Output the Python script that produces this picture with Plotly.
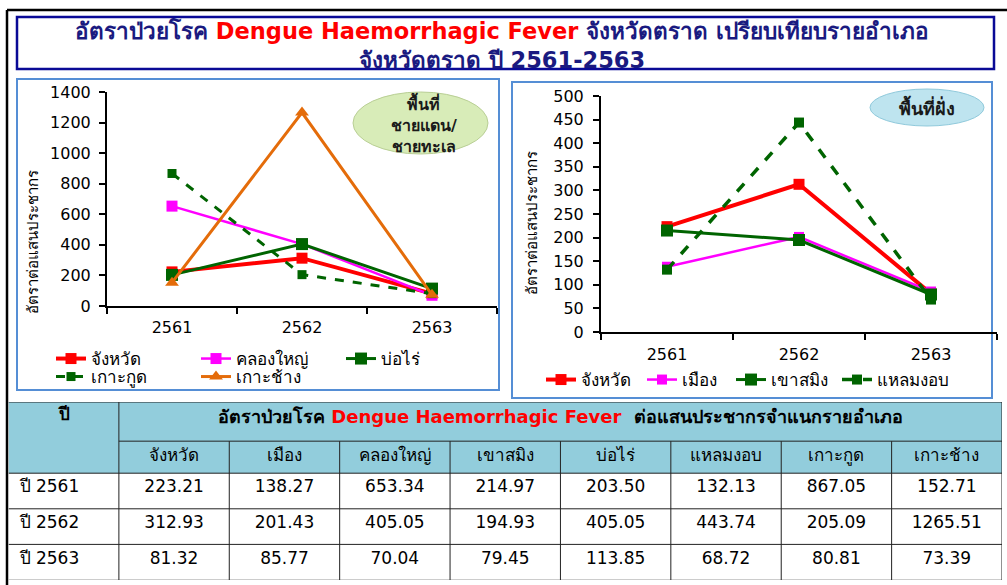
import plotly.graph_objects as go

W, H = 1007, 585

# ---------------- data ----------------
years = ["2561", "2562", "2563"]
row_labels = ["ปี 2561", "ปี 2562", "ปี 2563"]
districts = ["จังหวัด", "เมือง", "คลองใหญ่", "เขาสมิง", "บ่อไร่", "แหลมงอบ", "เกาะกูด", "เกาะช้าง"]

rate_changwat = [223.21, 312.93, 81.32]
rate_mueang = [138.27, 201.43, 85.77]
rate_khlongyai = [653.34, 405.05, 70.04]
rate_khaosaming = [214.97, 194.93, 79.45]
rate_borai = [203.50, 405.05, 113.85]
rate_laemngop = [132.13, 443.74, 68.72]
rate_kokut = [867.05, 205.09, 80.81]
rate_kochang = [152.71, 1265.51, 73.39]

left_yticks = [0, 200, 400, 600, 800, 1000, 1200, 1400]
right_yticks = [0, 50, 100, 150, 200, 250, 300, 350, 400, 450, 500]

table_columns = [rate_changwat, rate_mueang, rate_khlongyai, rate_khaosaming,
                 rate_borai, rate_laemngop, rate_kokut, rate_kochang]

border_label_lines = ["พื้นที่", "ชายแดน/", "ชายทะเล"]
inland_label = "พื้นที่ฝั่ง"

# ---------------- helpers (layout only) ----------------
def px(x):
    return x / W

def py(y):
    return 1 - y / H

FONT = "DejaVu Sans, Tahoma, sans-serif"
RED = "#FF0000"
MAG = "#FF00FF"
GRN = "#006400"
ORG = "#E46C0A"
NAVY = "#1A1A80"

fig = go.Figure()

# ---------------- left chart ----------------
left_series = [
    ("จังหวัด", rate_changwat, RED, 4, "solid", "square", 11, "legend"),
    ("คลองใหญ่", rate_khlongyai, MAG, 2.5, "solid", "square", 11, "legend"),
    ("บ่อไร่", rate_borai, GRN, 3, "solid", "square", 12, "legend"),
    ("เกาะกูด", rate_kokut, GRN, 3, "dash", "square", 9, "legend2"),
    ("เกาะช้าง", rate_kochang, ORG, 3, "solid", "triangle-up", 12, "legend2"),
]
for name, vals, col, lw, dash, sym, ms, lg in left_series:
    fig.add_trace(go.Scatter(
        x=years, y=vals, name=name, mode="lines+markers",
        line=dict(color=col, width=lw, dash=dash),
        marker=dict(color=col, symbol=sym, size=ms),
        xaxis="x", yaxis="y", legend=lg, hoverinfo="x+y+name"))

# ---------------- right chart ----------------
right_series = [
    ("จังหวัด", rate_changwat, RED, 4, "solid", "square", 11, "legend3"),
    ("เมือง", rate_mueang, MAG, 2.5, "solid", "square", 10, "legend4"),
    ("เขาสมิง", rate_khaosaming, GRN, 3, "solid", "square", 12, "legend5"),
    ("แหลมงอบ", rate_laemngop, GRN, 3.5, "dash", "square", 10, "legend6"),
]
for name, vals, col, lw, dash, sym, ms, lg in right_series:
    fig.add_trace(go.Scatter(
        x=years, y=vals, name=name, mode="lines+markers",
        line=dict(color=col, width=lw, dash=dash),
        marker=dict(color=col, symbol=sym, size=ms),
        xaxis="x2", yaxis="y2", legend=lg, hoverinfo="x+y+name"))

# ---------------- table (on its own axes) ----------------
NCOL = 9
row_edges = [0, 1.1, 2, 3, 4, 5]
hdr_y = (row_edges[1] + row_edges[2]) / 2
data_centers = [(row_edges[i] + row_edges[i + 1]) / 2 - 0.08 for i in range(2, 5)]

fig.add_trace(go.Scatter(
    x=[c + 1.5 for c in range(len(districts))], y=[hdr_y] * len(districts),
    text=districts, mode="text", textposition="middle center",
    textfont=dict(family=FONT, size=17, color="black"),
    xaxis="x3", yaxis="y3", showlegend=False, hoverinfo="skip"))
fig.add_trace(go.Scatter(
    x=[0.1] * len(row_labels), y=data_centers, text=row_labels,
    mode="text", textposition="middle right",
    textfont=dict(family=FONT, size=17, color="black"),
    xaxis="x3", yaxis="y3", showlegend=False, hoverinfo="skip"))
tx, ty, tt = [], [], []
for ci, colvals in enumerate(table_columns):
    for ri, v in enumerate(colvals):
        tx.append(ci + 1.5)
        ty.append(data_centers[ri])
        tt.append(f"{v:.2f}")
fig.add_trace(go.Scatter(
    x=tx, y=ty, text=tt, mode="text", textposition="middle center",
    textfont=dict(family=FONT, size=17, color="black"),
    xaxis="x3", yaxis="y3", showlegend=False, hoverinfo="skip"))

shapes = []
shapes.append(dict(type="rect", xref="x3", yref="y3", x0=0, x1=NCOL, y0=0, y1=row_edges[2],
                   fillcolor="#92CDDC", line=dict(width=0), layer="below"))
tline = dict(color="#222222", width=1)
shapes.append(dict(type="line", xref="x3", yref="y3", x0=1, x1=NCOL, y0=row_edges[1], y1=row_edges[1], line=tline))
for r in row_edges[2:5]:
    shapes.append(dict(type="line", xref="x3", yref="y3", x0=0, x1=NCOL, y0=r, y1=r, line=tline))
shapes.append(dict(type="line", xref="x3", yref="y3", x0=0, x1=NCOL, y0=0, y1=0, line=tline))
shapes.append(dict(type="line", xref="x3", yref="y3", x0=0, x1=NCOL, y0=5, y1=5, line=dict(color="#999999", width=1)))
shapes.append(dict(type="line", xref="x3", yref="y3", x0=1, x1=1, y0=0, y1=5, line=tline))
for c in range(2, NCOL):
    shapes.append(dict(type="line", xref="x3", yref="y3", x0=c, x1=c, y0=row_edges[1], y1=5, line=tline))
shapes.append(dict(type="line", xref="x3", yref="y3", x0=NCOL, x1=NCOL, y0=0, y1=5, line=tline))

# outer black frame
shapes.append(dict(type="line", xref="paper", yref="paper", x0=px(7), x1=px(7), y0=py(10), y1=0,
                   line=dict(color="black", width=2.5)))
shapes.append(dict(type="line", xref="paper", yref="paper", x0=px(7), x1=1, y0=py(10), y1=py(10),
                   line=dict(color="black", width=2.5)))
# title box
shapes.append(dict(type="rect", xref="paper", yref="paper", x0=px(17), x1=px(994), y0=py(69), y1=py(17),
                   line=dict(color="#0A0A96", width=2.5), fillcolor="white", layer="below"))
# chart panels
shapes.append(dict(type="rect", xref="paper", yref="paper", x0=px(17), x1=px(499), y0=py(390), y1=py(79),
                   line=dict(color="#558ED5", width=2), layer="below"))
shapes.append(dict(type="rect", xref="paper", yref="paper", x0=px(512), x1=px(992), y0=py(398), y1=py(82),
                   line=dict(color="#558ED5", width=2), layer="below"))
# ellipses
shapes.append(dict(type="circle", xref="paper", yref="paper", x0=px(353), x1=px(488), y0=py(154), y1=py(92),
                   fillcolor="#D8ECB8", line=dict(color="#B9CF95", width=1), layer="below"))
shapes.append(dict(type="circle", xref="paper", yref="paper", x0=px(870), x1=px(984), y0=py(126), y1=py(89),
                   fillcolor="#BEE4EF", line=dict(color="#8FC9DB", width=1), layer="below"))

annotations = []
annotations.append(dict(xref="paper", yref="paper", x=px(502), y=py(45), xanchor="center", yanchor="middle",
                        showarrow=False, align="center",
                        text="อัตราป่วยโรค <span style='color:#FF0000'>Dengue Haemorrhagic Fever</span> จังหวัดตราด เปรียบเทียบรายอำเภอ"
                             "<br>จังหวัดตราด ปี 2561-2563",
                        font=dict(family=FONT, size=22.5, color=NAVY, weight="bold")))
annotations.append(dict(xref="paper", yref="paper", x=px(33), y=py(242), textangle=-90, showarrow=False,
                        xanchor="center", yanchor="middle", text="อัตราต่อแสนประชากร",
                        font=dict(family=FONT, size=15, color="black")))
annotations.append(dict(xref="paper", yref="paper", x=px(532), y=py(223), textangle=-90, showarrow=False,
                        xanchor="center", yanchor="middle", text="อัตราต่อแสนประชากร",
                        font=dict(family=FONT, size=15, color="black")))
annotations.append(dict(xref="paper", yref="paper", x=px(424), y=py(124), showarrow=False,
                        xanchor="center", yanchor="middle", align="center",
                        text="<br>".join(border_label_lines),
                        font=dict(family=FONT, size=16, color="#1A1A1A", weight="bold")))
annotations.append(dict(xref="paper", yref="paper", x=px(927), y=py(107), showarrow=False,
                        xanchor="center", yanchor="middle", text=inland_label,
                        font=dict(family=FONT, size=18, color="#1A1A1A", weight="bold")))
annotations.append(dict(xref="x3", yref="y3", x=0.5, y=0.35, showarrow=False, xanchor="center", yanchor="middle",
                        text="ปี", font=dict(family=FONT, size=17, color="black", weight="bold")))
annotations.append(dict(xref="x3", yref="y3", x=5, y=0.42, showarrow=False, xanchor="center", yanchor="middle",
                        text="อัตราป่วยโรค <span style='color:#FF0000'>Dengue Haemorrhagic Fever</span>  ต่อแสนประชากรจำแนกรายอำเภอ",
                        font=dict(family=FONT, size=18, color="black", weight="bold")))

axis_common = dict(showline=True, linecolor="black", linewidth=2, ticks="outside", ticklen=6,
                   tickwidth=2, tickcolor="black", showgrid=False, zeroline=False,
                   tickfont=dict(family=FONT, size=16, color="black"), fixedrange=True)

leg_common = dict(orientation="h", xanchor="left", yanchor="middle", bgcolor="rgba(0,0,0,0)",
                  font=dict(family=FONT, size=17, color="black"), tracegroupgap=0, itemclick=False,
                  itemdoubleclick=False)

fig.update_layout(
    width=W, height=H, margin=dict(l=0, r=0, t=0, b=0, pad=0, autoexpand=False),
    paper_bgcolor="white", plot_bgcolor="rgba(0,0,0,0)",
    font=dict(family=FONT),
    xaxis=dict(domain=[px(107), px(497)], anchor="y", type="category", range=[-0.5, 2.5],
               tickson="boundaries", ticklabelstandoff=6, **axis_common),
    yaxis=dict(domain=[py(306), py(92)], anchor="x", range=[0, 1400], tickmode="array",
               tickvals=left_yticks, ticklabelstandoff=5, **axis_common),
    xaxis2=dict(domain=[px(601), px(997)], anchor="y2", type="category", range=[-0.5, 2.5],
                tickson="boundaries", ticklabelstandoff=7, **axis_common),
    yaxis2=dict(domain=[py(332), py(96)], anchor="x2", range=[0, 500], tickmode="array",
                tickvals=right_yticks, ticklabelstandoff=6, **axis_common),
    xaxis3=dict(domain=[px(8.5), px(1002)], anchor="y3", range=[0, NCOL], visible=False, fixedrange=True),
    yaxis3=dict(domain=[py(580), py(402)], anchor="x3", range=[5, 0], visible=False, fixedrange=True),
    legend=dict(x=px(51), y=py(359), entrywidth=100, **leg_common),
    legend2=dict(x=px(51), y=py(377), entrywidth=100, **leg_common),
    legend3=dict(x=px(541), y=py(380), **leg_common),
    legend4=dict(x=px(642), y=py(380), **leg_common),
    legend5=dict(x=px(731), y=py(380), **leg_common),
    legend6=dict(x=px(837), y=py(380), **leg_common),
    shapes=shapes, annotations=annotations, showlegend=True,
)

fig.write_html("out.html", config={"displayModeBar": False},
               post_script="document.body.style.margin='0';document.body.style.overflow='hidden';")
